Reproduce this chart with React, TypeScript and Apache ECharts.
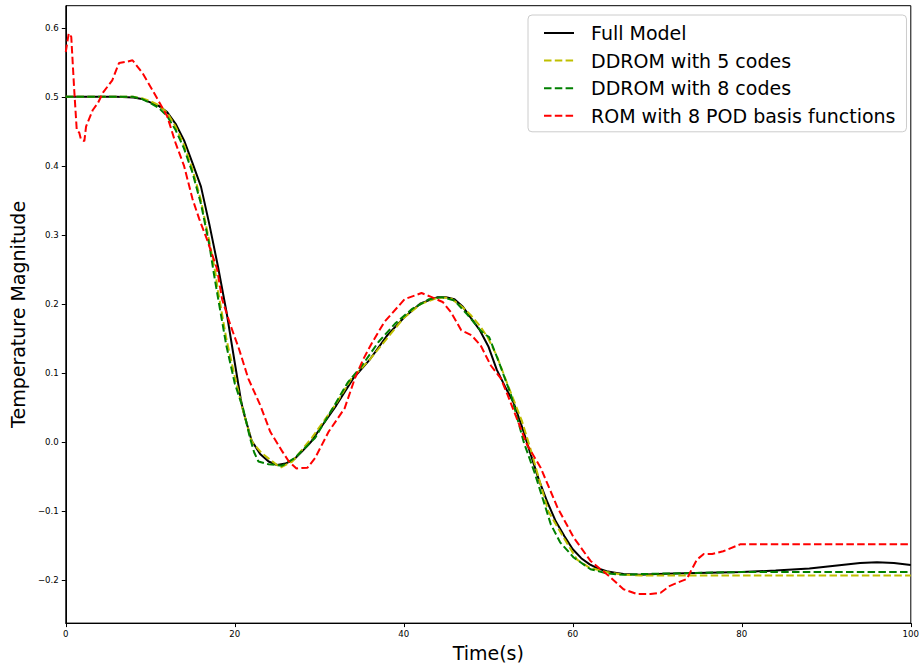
import React, { useEffect, useRef } from "react";
import * as echarts from "echarts";

// ---- Data ----
const SERIES_NAMES = [
  "Full Model",
  "DDROM with 5 codes",
  "DDROM with 8 codes",
  "ROM with 8 POD basis functions",
];

const FULL_T = [0, 2, 4, 6, 8, 9, 10, 11, 12, 13, 14, 15, 16, 17, 18, 19, 20, 20.7, 21, 22, 23, 24, 25, 26, 27, 28, 28.7, 29, 30, 32, 34, 36, 38, 40, 42, 44, 45, 46, 47, 48, 49, 50, 51, 52, 53, 54, 55, 56, 57, 58, 59, 60, 61, 62, 63, 64, 65, 66, 68, 70, 72, 76, 80, 84, 88, 91, 94, 96, 98, 100];
const FULL_V = [0.5, 0.5, 0.5, 0.5, 0.499, 0.497, 0.492, 0.487, 0.478, 0.461, 0.437, 0.404, 0.37, 0.315, 0.255, 0.19, 0.115, 0.063, 0.045, 0.002, -0.017, -0.028, -0.033, -0.031, -0.025, -0.013, -0.004, 0.0, 0.018, 0.053, 0.092, 0.12, 0.154, 0.18, 0.201, 0.21, 0.21, 0.207, 0.196, 0.179, 0.162, 0.139, 0.105, 0.08, 0.057, 0.022, -0.017, -0.055, -0.087, -0.115, -0.136, -0.155, -0.168, -0.177, -0.183, -0.187, -0.189, -0.191, -0.192, -0.191, -0.19, -0.189, -0.188, -0.186, -0.183, -0.179, -0.175, -0.174, -0.175, -0.178];

const DD5_T = [0, 2, 4, 6, 8, 9, 10, 11, 12, 13, 14, 15, 16, 17, 17.7, 18, 19, 20, 21, 22, 23.2, 25.4, 26.8, 29.1, 31.9, 33.8, 36, 38, 40, 42, 44, 45.5, 47, 48, 49.1, 50, 51, 52.3, 54, 55, 57.1, 59, 60.5, 62, 64, 66, 68, 80, 100];
const DD5_V = [0.5, 0.5, 0.5, 0.5, 0.5, 0.498, 0.494, 0.488, 0.477, 0.457, 0.43, 0.395, 0.35, 0.29, 0.246, 0.22, 0.15, 0.095, 0.045, 0.001, -0.016, -0.037, -0.028, 0.006, 0.054, 0.092, 0.12, 0.15, 0.18, 0.2, 0.209, 0.209, 0.195, 0.183, 0.167, 0.15, 0.125, 0.083, 0.03, -0.01, -0.1, -0.14, -0.17, -0.182, -0.188, -0.192, -0.193, -0.193, -0.193];

const DD8_T = [0, 2, 4, 6, 8, 9, 10, 11, 12, 13, 14, 15, 16, 17, 17.5, 18, 19, 20, 21, 21.8, 22.3, 22.8, 24, 25.6, 27.1, 28, 29.5, 31.1, 33.4, 35, 37, 39, 41, 43, 44.5, 46, 47.5, 49, 49.5, 50.1, 51.1, 52.7, 54.2, 55.5, 57.4, 58.5, 60.1, 62.1, 64, 66, 68, 72, 80, 100];
const DD8_V = [0.5, 0.5, 0.5, 0.5, 0.5, 0.497, 0.491, 0.484, 0.472, 0.452, 0.425, 0.39, 0.345, 0.285, 0.246, 0.21, 0.14, 0.085, 0.048, 0.006, -0.015, -0.028, -0.032, -0.034, -0.023, -0.012, 0.006, 0.039, 0.087, 0.11, 0.145, 0.172, 0.193, 0.207, 0.21, 0.205, 0.185, 0.163, 0.157, 0.152, 0.121, 0.068, 0.0, -0.045, -0.119, -0.145, -0.167, -0.184, -0.19, -0.192, -0.191, -0.19, -0.188, -0.188];

const ROM_T = [0, 0.35, 0.65, 1.0, 1.3, 1.6, 1.8, 2.2, 2.4, 3.2, 3.8, 4.4, 5.5, 6.3, 7.3, 7.9, 9.1, 10.25, 12.0, 13.0, 14.0, 15.0, 15.8, 16.7, 17.9, 18.5, 19.5, 20.5, 21.6, 23.0, 24.2, 25.6, 26.4, 27.3, 28.6, 29.5, 31.1, 33.0, 34.2, 35.2, 36.2, 37.7, 40.1, 42.1, 43.3, 44.6, 45.6, 46.8, 48.0, 49.1, 50.3, 51.5, 52.3, 54.6, 56.2, 58.2, 60.1, 62.1, 64.3, 66.0, 67.6, 69.2, 70.4, 71.5, 73.5, 74.0, 74.7, 75.5, 76.5, 77.8, 79.8, 100];
const ROM_V = [0.565, 0.592, 0.587, 0.51, 0.452, 0.448, 0.438, 0.436, 0.457, 0.481, 0.491, 0.506, 0.524, 0.549, 0.551, 0.553, 0.534, 0.51, 0.472, 0.433, 0.4, 0.352, 0.323, 0.294, 0.251, 0.207, 0.169, 0.135, 0.092, 0.054, 0.015, -0.013, -0.028, -0.038, -0.037, -0.023, 0.015, 0.049, 0.092, 0.12, 0.143, 0.174, 0.207, 0.216, 0.21, 0.203, 0.188, 0.162, 0.155, 0.14, 0.111, 0.092, 0.068, -0.004, -0.037, -0.095, -0.138, -0.172, -0.194, -0.213, -0.22, -0.22, -0.218, -0.208, -0.198, -0.186, -0.17, -0.162, -0.162, -0.158, -0.148, -0.148];

const Y_TICKS = [-0.2, -0.1, 0.0, 0.1, 0.2, 0.3, 0.4, 0.5, 0.6];
const X_TICKS = [0, 20, 40, 60, 80, 100];

const COLORS = ["#000000", "#bfbf00", "#008000", "#ff0000"];

const zip = (t: number[], v: number[]) => t.map((x, i) => [x, v[i]]);

export default function App() {
  const ref = useRef<HTMLDivElement>(null);

  useEffect(() => {
    if (!ref.current) return;
    const chart = echarts.init(ref.current, undefined, { renderer: "svg" });
    const font = "DejaVu Sans";
    const dash = [7.5, 3.3];
    const datasets = [
      zip(FULL_T, FULL_V),
      zip(DD5_T, DD5_V),
      zip(DD8_T, DD8_V),
      zip(ROM_T, ROM_V),
    ];
    chart.setOption({
      animation: false,
      backgroundColor: "#ffffff",
      grid: {
        left: 63,
        right: 10.5,
        top: 5.7,
        bottom: 41.3,
        show: true,
        borderColor: "#000",
        borderWidth: 1,
        backgroundColor: "transparent",
      },
      legend: {
        orient: "vertical",
        left: 528,
        top: 15,
        data: SERIES_NAMES,
        itemWidth: 30,
        itemHeight: 2,
        itemGap: 7.6,
        padding: [8, 11, 6, 15],
        backgroundColor: "rgba(255,255,255,0.8)",
        borderColor: "#cccccc",
        borderWidth: 1,
        borderRadius: 4,
        selectedMode: false,
        itemStyle: { opacity: 0, borderWidth: 0 },
        textStyle: {
          fontFamily: font,
          fontSize: 19,
          color: "#000",
          lineHeight: 20,
          padding: [0, 0, 0, 12],
        },
        z: 10,
      },
      xAxis: {
        type: "value",
        min: 0,
        max: 100,
        interval: 20,
        name: "Time(s)",
        nameLocation: "middle",
        nameGap: 18,
        nameTextStyle: { fontFamily: font, fontSize: 19, color: "#000" },
        axisLine: { show: true, onZero: false, lineStyle: { color: "#000", width: 1 } },
        axisTick: { show: true, inside: false, length: 4, lineStyle: { color: "#000" }, customValues: X_TICKS },
        axisLabel: { fontFamily: font, fontSize: 8.6, color: "#000", margin: 6, customValues: X_TICKS },
        splitLine: { show: false },
      },
      yAxis: {
        type: "value",
        min: -0.262,
        max: 0.632,
        name: "Temperature Magnitude",
        nameLocation: "middle",
        nameGap: 33,
        nameRotate: 90,
        nameTextStyle: { fontFamily: font, fontSize: 19, color: "#000" },
        axisLine: { show: true, onZero: false, lineStyle: { color: "#000", width: 1 } },
        axisTick: { show: true, inside: false, length: 4, lineStyle: { color: "#000" }, customValues: Y_TICKS },
        axisLabel: {
          fontFamily: font,
          fontSize: 8.6,
          color: "#000",
          margin: 7,
          customValues: Y_TICKS,
          formatter: (v: number) => v.toFixed(1).replace("-", "\u2212"),
        },
        splitLine: { show: false },
      },
      series: SERIES_NAMES.map((name, i) => ({
        name,
        type: "line",
        data: datasets[i],
        showSymbol: false,
        symbol: "none",
        smooth: false,
        clip: true,
        color: COLORS[i],
        lineStyle: {
          color: COLORS[i],
          width: 2,
          type: i === 0 ? "solid" : dash,
        },
        itemStyle: { color: COLORS[i] },
      })),
    });
    return () => chart.dispose();
  }, []);

  return (
    <div
      ref={ref}
      style={{ position: "absolute", left: 0, top: 0, width: 922, height: 667, background: "#fff" }}
    />
  );
}
